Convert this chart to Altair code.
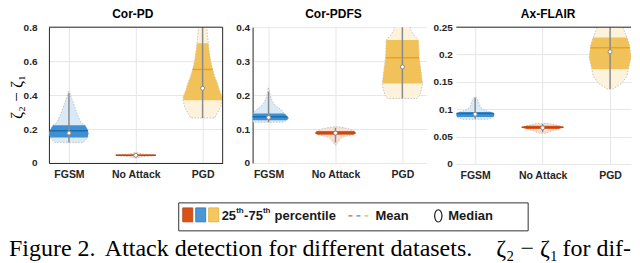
import altair as alt
import pandas as pd

# ---------------- data ----------------
categories = ["FGSM", "No Attack", "PGD"]
light_colors = ["#d9e9f6", "#f9dfd1", "#fdf3dd"]
band_colors = ["#3f90d3", "#df5a1f", "#f2c25a"]
mean_colors = ["#1b6db0", "#c0440e", "#e6a51e"]

# Cor-PD : violin profiles (value, half-width in category units)
corpd_fgsm_v = [0.12, 0.135, 0.15, 0.175, 0.195, 0.222, 0.24, 0.29, 0.35, 0.39, 0.42]
corpd_fgsm_w = [0.21, 0.25, 0.28, 0.29, 0.28, 0.24, 0.18, 0.12, 0.07, 0.03, 0.01]
corpd_none_v = [0.03, 0.038, 0.042, 0.045, 0.048, 0.052, 0.06]
corpd_none_w = [0.015, 0.12, 0.28, 0.30, 0.28, 0.12, 0.015]
corpd_pgd_v = [0.265, 0.28, 0.33, 0.37, 0.39, 0.43, 0.47, 0.51, 0.55, 0.60, 0.665, 0.705, 0.76, 0.82]
corpd_pgd_w = [0.18, 0.20, 0.27, 0.29, 0.29, 0.25, 0.22, 0.18, 0.15, 0.12, 0.095, 0.085, 0.07, 0.06]
corpd_q25 = [0.15, 0.042, 0.37]
corpd_q75 = [0.222, 0.048, 0.705]
corpd_mean = [0.19, 0.045, 0.55]
corpd_mean_w = [0.28, 0.30, 0.15]
corpd_median = [0.176, 0.045, 0.44]
corpd_min = [0.12, 0.033, 0.265]
corpd_max = [0.41, 0.058, 0.85]

# Cor-PDFS
corpdfs_fgsm_v = [0.12, 0.124, 0.126, 0.132, 0.141, 0.146, 0.156, 0.17, 0.18, 0.20, 0.22]
corpdfs_fgsm_w = [0.22, 0.25, 0.27, 0.30, 0.26, 0.23, 0.19, 0.10, 0.06, 0.022, 0.007]
corpdfs_none_v = [0.053, 0.06, 0.068, 0.075, 0.08, 0.083, 0.088, 0.094, 0.10, 0.105, 0.107]
corpdfs_none_w = [0.007, 0.037, 0.06, 0.10, 0.18, 0.27, 0.30, 0.28, 0.21, 0.09, 0.015]
corpdfs_pgd_v = [0.19, 0.20, 0.22, 0.234, 0.25, 0.283, 0.31, 0.34, 0.362, 0.375, 0.39, 0.41]
corpdfs_pgd_w = [0.22, 0.26, 0.29, 0.30, 0.29, 0.27, 0.25, 0.245, 0.24, 0.18, 0.13, 0.10]
corpdfs_q25 = [0.126, 0.083, 0.234]
corpdfs_q75 = [0.146, 0.094, 0.362]
corpdfs_mean = [0.136, 0.088, 0.31]
corpdfs_mean_w = [0.28, 0.30, 0.25]
corpdfs_median = [0.134, 0.088, 0.283]
corpdfs_min = [0.12, 0.06, 0.19]
corpdfs_max = [0.21, 0.104, 0.42]

# Ax-FLAIR
axflair_fgsm_v = [0.0815, 0.084, 0.086, 0.089, 0.092, 0.095, 0.098, 0.104, 0.11, 0.116, 0.122]
axflair_fgsm_w = [0.18, 0.24, 0.27, 0.28, 0.28, 0.23, 0.14, 0.075, 0.06, 0.045, 0.015]
axflair_none_v = [0.056, 0.06, 0.064, 0.067, 0.07, 0.074]
axflair_none_w = [0.045, 0.12, 0.24, 0.31, 0.24, 0.09]
axflair_pgd_v = [0.137, 0.142, 0.146, 0.155, 0.161, 0.173, 0.179, 0.194, 0.205, 0.216, 0.231, 0.24, 0.25, 0.26]
axflair_pgd_w = [0.045, 0.10, 0.16, 0.22, 0.25, 0.27, 0.28, 0.31, 0.30, 0.29, 0.25, 0.22, 0.19, 0.17]
axflair_q25 = [0.086, 0.064, 0.173]
axflair_q75 = [0.095, 0.07, 0.231]
axflair_mean = [0.092, 0.067, 0.2125]
axflair_mean_w = [0.28, 0.31, 0.29]
axflair_median = [0.091, 0.066, 0.205]
axflair_min = [0.082, 0.058, 0.137]
axflair_max = [0.121, 0.073, 0.26]

corpd_ticks = [0, 0.2, 0.4, 0.6, 0.8]
corpdfs_ticks = [0, 0.1, 0.2, 0.3, 0.4]
axflair_ticks = [0, 0.05, 0.1, 0.15, 0.2, 0.25]

panel_titles = ["Cor-PD", "Cor-PDFS", "Ax-FLAIR"]
y_label = "ζ₂ − ζ₁"
legend_labels = ["25", "th", "-75", "th", "percentile", "Mean", "Median"]
caption_parts = ["Figure 2.", "Attack detection for different datasets.", "ζ₂ − ζ₁", "for dif-"]

# ---------------- styling ----------------
SANS = "Liberation Sans"
SERIF = "Liberation Serif"
INK = "#262626"
GRID = "#e6e6e6"
GRAY = "#8a8a8a"


def build_tables(profiles, q25, q75, mean, mean_w, median, vmin, vmax):
    rows = []
    for i, (vs, ws) in enumerate(profiles):
        for v, w in zip(vs, ws):
            rows.append(dict(pos=i + 1, v=v, w=w, q25=q25[i], q75=q75[i],
                             light=light_colors[i], band=band_colors[i]))
    prof = pd.DataFrame(rows)
    st = pd.DataFrame(dict(pos=[1, 2, 3], mean=mean, mean_w=mean_w, median=median,
                           lo=vmin, hi=vmax, meanc=mean_colors))
    return prof, st


def panel(title, title_x, prof, st, ydom, yticks, xdom, width, height, label_pad, frame):
    xs = alt.Scale(domain=xdom, nice=False, zero=False)
    ys = alt.Scale(domain=ydom, nice=False, zero=False)
    label_expr = "[" + ",".join("'%s'" % c for c in categories) + "][datum.value - 1]"
    xax = alt.Axis(values=[1, 2, 3], labelExpr=label_expr, title=None, grid=True,
                   gridColor=GRID, ticks=False, domain=frame["bottom"], domainColor=INK,
                   labelFont=SANS, labelFontSize=10.5, labelFontWeight="bold",
                   labelColor=INK, labelPadding=7)
    yax = alt.Axis(values=yticks, format="~g", title=None, grid=True, gridColor=GRID,
                   ticks=False, domain=frame["left"], domainColor=INK, labelFont=SANS,
                   labelFontSize=10, labelFontWeight="bold", labelColor=INK,
                   labelPadding=label_pad)

    base = alt.Chart(prof).transform_calculate(lo="datum.pos - datum.w", hi="datum.pos + datum.w")
    light = base.mark_area(orient="horizontal", clip=True, stroke="#b8b8b8",
                           strokeWidth=0.8, strokeDash=[1.5, 1.5]).encode(
        y=alt.Y("v:Q", scale=ys, axis=yax),
        x=alt.X("lo:Q", scale=xs, axis=xax),
        x2="hi:Q",
        fill=alt.Fill("light:N", scale=None),
        detail="pos:N",
    )
    band = base.transform_filter("datum.v >= datum.q25 && datum.v <= datum.q75").mark_area(
        orient="horizontal", clip=True).encode(
        y=alt.Y("v:Q", scale=ys, axis=yax),
        x=alt.X("lo:Q", scale=xs, axis=xax),
        x2="hi:Q",
        fill=alt.Fill("band:N", scale=None),
        detail="pos:N",
    )
    sbase = alt.Chart(st)
    meanl = sbase.transform_calculate(ml="datum.pos - datum.mean_w", mh="datum.pos + datum.mean_w").mark_rule(
        strokeWidth=1.5, clip=True).encode(
        y=alt.Y("mean:Q", scale=ys, axis=yax),
        x=alt.X("ml:Q", scale=xs, axis=xax),
        x2="mh:Q",
        color=alt.Color("meanc:N", scale=None),
    )
    whisk = sbase.mark_rule(color=GRAY, strokeWidth=1.5, clip=True).encode(
        x=alt.X("pos:Q", scale=xs, axis=xax),
        y=alt.Y("lo:Q", scale=ys, axis=yax),
        y2="hi:Q",
    )
    med = sbase.mark_point(filled=True, fill="white", stroke=GRAY, strokeWidth=1,
                           size=16, opacity=1).encode(
        x=alt.X("pos:Q", scale=xs, axis=xax),
        y=alt.Y("median:Q", scale=ys, axis=yax),
    )
    one = pd.DataFrame({"t": [title]})
    ttl = alt.Chart(one).mark_text(font=SANS, fontSize=12, fontWeight="bold", color="black",
                                   baseline="middle", align="center").encode(
        text="t:N", x=alt.value(title_x), y=alt.value(-13))
    layers = [light, band, meanl, whisk, med, ttl]
    if frame["top"]:
        layers.append(alt.Chart(one).mark_rule(color=INK, strokeWidth=1).encode(
            x=alt.value(0), x2=alt.value(width), y=alt.value(0)))
    if frame["right"]:
        layers.append(alt.Chart(one).mark_rule(color=INK, strokeWidth=1).encode(
            x=alt.value(width), y=alt.value(0), y2=alt.value(height)))
    return layers


p1_prof, p1_st = build_tables([(corpd_fgsm_v, corpd_fgsm_w), (corpd_none_v, corpd_none_w),
                               (corpd_pgd_v, corpd_pgd_w)],
                              corpd_q25, corpd_q75, corpd_mean, corpd_mean_w, corpd_median,
                              corpd_min, corpd_max)
p2_prof, p2_st = build_tables([(corpdfs_fgsm_v, corpdfs_fgsm_w), (corpdfs_none_v, corpdfs_none_w),
                               (corpdfs_pgd_v, corpdfs_pgd_w)],
                              corpdfs_q25, corpdfs_q75, corpdfs_mean, corpdfs_mean_w,
                              corpdfs_median, corpdfs_min, corpdfs_max)
p3_prof, p3_st = build_tables([(axflair_fgsm_v, axflair_fgsm_w), (axflair_none_v, axflair_none_w),
                               (axflair_pgd_v, axflair_pgd_w)],
                              axflair_q25, axflair_q75, axflair_mean, axflair_mean_w,
                              axflair_median, axflair_min, axflair_max)

W1, W2, W3, H = 174, 174, 175, 136

l1 = panel(panel_titles[0], 84, p1_prof, p1_st, [0, 0.8], corpd_ticks, [0.7, 3.3], W1, H, 12,
           dict(top=True, right=True, bottom=True, left=True))
l2 = panel(panel_titles[1], 81, p2_prof, p2_st, [0, 0.4], corpdfs_ticks, [0.761, 3.358], W2, H, 3,
           dict(top=False, right=False, bottom=False, left=True))
l3 = panel(panel_titles[2], 92, p3_prof, p3_st, [0, 0.25], axflair_ticks, [0.72, 3.31], W3, H + 1, 4,
           dict(top=True, right=False, bottom=False, left=False))

# ---- annotations attached to the first panel (y label, legend box, caption) ----
one = pd.DataFrame({"t": [""]})


def txt(s, x, y, size=13, font=SANS, weight="bold", align="left", baseline="middle", angle=0, color="#1a1a1a"):
    kw = dict(font=font, fontSize=size, fontWeight=weight, align=align, baseline=baseline, color=color)
    if angle:
        kw["angle"] = angle
    return alt.Chart(pd.DataFrame({"t": [s]})).mark_text(**kw).encode(
        text="t:N", x=alt.value(x), y=alt.value(y))


def rect(x1, x2, y1, y2, fill, stroke, sw=1):
    return alt.Chart(one).mark_rect(fill=fill, stroke=stroke, strokeWidth=sw).encode(
        x=alt.value(x1), x2=alt.value(x2), y=alt.value(y1), y2=alt.value(y2))


def hline(x1, x2, y, color, sw=1.5):
    return alt.Chart(one).mark_rule(color=color, strokeWidth=sw).encode(
        x=alt.value(x1), x2=alt.value(x2), y=alt.value(y))


CAP = dict(size=24, font=SERIF, weight="normal", baseline="alphabetic", color="black")
ann = [
    txt(y_label, -32, 70, size=17, font=SERIF, weight="normal", align="center", angle=270, color="black"),
    rect(130, 480, 176, 204, "white", "#333333", 1),
    rect(134, 144, 181, 195, "#d95319", "#b4410f", 0.8),
    rect(147, 157, 181, 195, "#4a96d6", "#2f74b3", 0.8),
    rect(160, 170, 181, 195, "#f5c75e", "#dfae3a", 0.8),
    txt(legend_labels[0], 173, 189),
    txt(legend_labels[1], 187.5, 184, size=8),
    txt(legend_labels[2], 195.5, 189),
    txt(legend_labels[3], 214.3, 184, size=8),
    txt(legend_labels[4], 226, 189),
    hline(300, 304, 189, "#e07a45"),
    hline(308, 312, 189, "#5b9fd8"),
    hline(316, 320, 189, "#f0c15a"),
    txt(legend_labels[5], 327, 189),
    alt.Chart(one).mark_point(shape="M0,-1 A0.6,1 0 1,1 0,1 A0.6,1 0 1,1 0,-1 Z", size=150,
                              stroke="#1a1a1a", strokeWidth=1.2, filled=False, opacity=1).encode(
        x=alt.value(390), y=alt.value(189)),
    txt(legend_labels[6], 400, 189),
    txt(caption_parts[0], -40, 229, **CAP),
    txt(caption_parts[1], 56, 229, **CAP),
    txt(caption_parts[2], 479, 229, align="center", **CAP),
    txt(caption_parts[3], 583, 229, align="right", **CAP),
]

p1 = alt.layer(*(l1 + ann)).properties(width=W1, height=H)
p2 = alt.layer(*l2).properties(width=W2, height=H)
p3 = alt.layer(*l3).properties(width=W3, height=H + 1)

chart = alt.hconcat(p1, p2, p3, spacing=30, bounds="flush").properties(
    padding=0, background="white"
).configure_view(stroke=None)

chart.save("out.html", embed_options={"renderer": "svg", "actions": False})
